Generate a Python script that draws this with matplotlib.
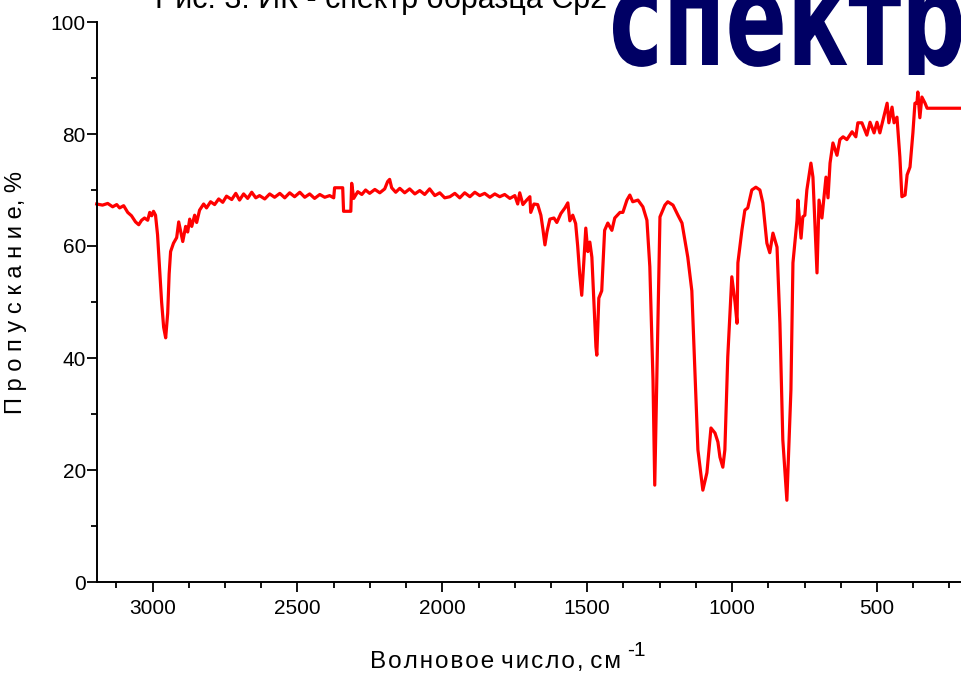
import matplotlib
matplotlib.use("Agg")
import matplotlib.pyplot as plt
from matplotlib import font_manager
from matplotlib.textpath import TextPath
from matplotlib.patches import PathPatch
from matplotlib.transforms import Affine2D, IdentityTransform, Bbox
from matplotlib.ticker import MultipleLocator

# IR spectrum: wavenumber (cm-1) and transmittance (%)
wavenumber = [
    3193, 3173, 3155, 3138, 3124, 3114, 3100, 3086, 3073, 3059, 3048, 3038,
    3028, 3017, 3010, 3003, 2997, 2990, 2983, 2976, 2969, 2962, 2955, 2948,
    2943, 2938, 2928, 2917, 2910, 2903, 2896, 2886, 2879, 2872, 2865, 2855,
    2848, 2838, 2824, 2814, 2800, 2786, 2772, 2758, 2745, 2727, 2713, 2700,
    2686, 2672, 2658, 2644, 2631, 2613, 2596, 2579, 2561, 2544, 2527, 2510,
    2492, 2475, 2458, 2441, 2423, 2406, 2389, 2375, 2372, 2344, 2341, 2316,
    2313, 2306, 2292, 2278, 2265, 2251, 2233, 2216, 2199, 2189, 2182, 2175,
    2161, 2147, 2130, 2113, 2095, 2078, 2061, 2044, 2026, 2009, 1992, 1974,
    1957, 1940, 1923, 1905, 1888, 1871, 1854, 1836, 1819, 1802, 1785, 1767,
    1750, 1740, 1733, 1722, 1709, 1698, 1695, 1684, 1671, 1660, 1653, 1646,
    1639, 1629, 1615, 1605, 1591, 1577, 1567, 1560, 1550, 1540, 1533, 1526,
    1519, 1512, 1505, 1498, 1491, 1484, 1477, 1470, 1467, 1464, 1460, 1450,
    1440, 1429, 1415, 1405, 1387, 1377, 1363, 1353, 1343, 1325, 1308, 1294,
    1284, 1273, 1267, 1260, 1249, 1232, 1222, 1204, 1187, 1173, 1163, 1153,
    1139, 1128, 1118, 1101, 1087, 1073, 1059, 1049, 1042, 1032, 1025, 1015,
    1001, 990, 983, 980, 966, 956, 946, 932, 918, 904, 894, 880,
    870, 859, 845, 835, 825, 811, 797, 790, 776, 773, 762, 756,
    749, 742, 728, 721, 707, 700, 690, 676, 669, 662, 652, 638,
    628, 617, 604, 586, 573, 566, 552, 535, 524, 510, 500, 490,
    479, 465, 459, 448, 441, 431, 421, 414, 403, 396, 386, 376,
    369, 362, 359, 352, 345, 334, 327, 210,
]
transmittance = [
    67.5, 67.3, 67.6, 67.0, 67.4, 66.8, 67.2, 66.0, 65.4, 64.3, 63.8, 64.6,
    65.0, 64.6, 66.0, 65.4, 66.2, 65.5, 62.0, 56.0, 50.0, 45.5, 43.6, 48.0,
    55.0, 59.0, 60.5, 61.5, 64.3, 62.5, 60.8, 63.5, 62.5, 64.8, 63.5, 65.5,
    64.2, 66.4, 67.5, 66.8, 67.9, 67.4, 68.4, 67.8, 68.9, 68.3, 69.4, 68.2,
    69.3, 68.5, 69.6, 68.6, 69.0, 68.4, 69.3, 68.7, 69.4, 68.6, 69.5, 68.8,
    69.6, 68.7, 69.3, 68.5, 69.2, 68.7, 69.0, 68.6, 70.4, 70.4, 66.2, 66.2,
    71.2, 68.5, 69.7, 69.2, 70.0, 69.4, 70.1, 69.5, 70.2, 71.5, 71.9, 70.4,
    69.6, 70.3, 69.5, 70.2, 69.3, 69.9, 69.2, 70.2, 69.0, 69.5, 68.6, 68.8,
    69.4, 68.6, 69.5, 68.8, 69.6, 69.0, 69.4, 68.7, 69.3, 68.8, 69.2, 68.5,
    69.0, 67.5, 69.5, 67.4, 68.2, 68.8, 66.0, 67.5, 67.4, 65.5, 63.0, 60.2,
    62.5, 64.8, 65.0, 64.2, 65.8, 66.8, 67.7, 64.5, 65.5, 64.0, 60.0, 55.0,
    51.2, 57.0, 63.2, 59.0, 60.7, 58.0, 50.0, 42.0, 40.5, 45.0, 50.7, 52.0,
    62.8, 64.1, 62.8, 65.0, 66.0, 66.0, 68.2, 69.1, 67.9, 68.2, 67.0, 64.6,
    56.3, 36.0, 17.3, 36.0, 65.2, 67.3, 67.9, 67.3, 65.5, 64.1, 61.0, 58.0,
    52.0, 37.3, 23.6, 16.4, 19.5, 27.5, 26.6, 25.0, 22.3, 20.5, 23.6, 40.2,
    54.5, 50.0, 46.2, 57.0, 62.9, 66.4, 66.8, 70.0, 70.5, 70.0, 67.7, 60.5,
    58.8, 62.3, 59.8, 46.2, 25.4, 14.6, 34.3, 57.0, 64.6, 68.2, 61.4, 65.2,
    65.5, 70.0, 74.8, 72.3, 55.2, 68.2, 65.0, 72.3, 68.6, 74.8, 78.4, 76.2,
    79.0, 79.5, 79.0, 80.4, 79.5, 82.0, 82.0, 79.8, 82.1, 80.2, 82.1, 80.2,
    82.5, 85.5, 82.0, 84.8, 82.0, 83.0, 75.9, 68.8, 69.1, 72.7, 74.1, 80.2,
    85.5, 85.5, 87.5, 82.9, 86.6, 85.5, 84.6, 84.6,
]

x_ticks = [3000, 2500, 2000, 1500, 1000, 500]
y_ticks = [0, 20, 40, 60, 80, 100]


def pick_font(names):
    for name in names:
        try:
            font_manager.findfont(font_manager.FontProperties(family=name),
                                  fallback_to_default=False)
            return name
        except ValueError:
            continue
    return "DejaVu Sans"


narrow = pick_font(["Liberation Sans Narrow", "Liberation Sans"])
regular = pick_font(["Liberation Sans", "DejaVu Sans"])
tick_size = 16 if narrow == "Liberation Sans Narrow" else 15

W, H = 961, 678
fig = plt.figure(figsize=(W / 100, H / 100), dpi=100)
ax = fig.add_axes([97 / W, 1 - 582 / H, 1 - 97 / W, (582 - 22) / H])

ax.plot(wavenumber, transmittance, color="#ff0000", linewidth=2.3,
        solid_joinstyle="round", clip_on=False)

ax.set_xlim(3192, 210)
ax.set_ylim(0, 100)
ax.set_xticks(x_ticks)
ax.set_yticks(y_ticks)
ax.xaxis.set_minor_locator(MultipleLocator(125))
ax.yaxis.set_minor_locator(MultipleLocator(10))

for side in ["top", "right"]:
    ax.spines[side].set_visible(False)
for side in ["left", "bottom"]:
    ax.spines[side].set_linewidth(1.4)

ax.tick_params(which="major", direction="out", length=7, width=1.3,
               labelsize=tick_size)
ax.tick_params(which="minor", direction="out", length=4.5, width=1.3)
ax.tick_params(axis="x", which="major", pad=5)
ax.tick_params(axis="y", which="major", pad=1)
for lab in ax.get_xticklabels() + ax.get_yticklabels():
    lab.set_fontfamily(narrow)

# letter-spaced axis titles
hair = "\u200a"
ylab = " ".join("Пропускание") + ", %"
fig.text(16 / W, 1 - 292 / H, ylab, rotation=90, ha="center", va="center",
         fontsize=17, family=[regular, "DejaVu Sans"])
xlab = " ".join(hair.join(w) for w in ["Волновое", "число,", "см"])
fig.text(496 / W, 1 - 662 / H, xlab, ha="center", va="center",
         fontsize=17.5, family=[regular, "DejaVu Sans"])
fig.text(627 / W, 1 - 651 / H, "-1", ha="left", va="center",
         fontsize=15, family=[regular, "DejaVu Sans"])

# caption at top, partly covered by the stamp
fig.text(155 / W, 1 - 8.3 / H, "Рис. 3. ИК - спектр образца Ср2", ha="left",
         va="baseline", fontsize=22, family=[regular, "DejaVu Sans"], zorder=1)

# big navy stamp "спектр"
fp = font_manager.FontProperties(family="DejaVu Sans", weight="bold",
                                 stretch="condensed")
tp = TextPath((0, 0), "спектр", size=100, prop=fp)
ext = tp.get_extents()
x0, x1 = 613, 962
base = H - 65
top = H + 10
sx = (x1 - x0) / ext.width
sy = (top - base) / ext.y1
tr = Affine2D().translate(-ext.x0, 0).scale(sx, sy).translate(x0, base)
stamp = PathPatch(tr.transform_path(tp), facecolor="#000064",
                  edgecolor="none", transform=IdentityTransform(), zorder=5)
stamp.set_clip_box(Bbox([[0, H - 75], [W, H]]))
stamp.set_clip_on(True)
fig.add_artist(stamp)

fig.savefig("out.png", dpi=100)
